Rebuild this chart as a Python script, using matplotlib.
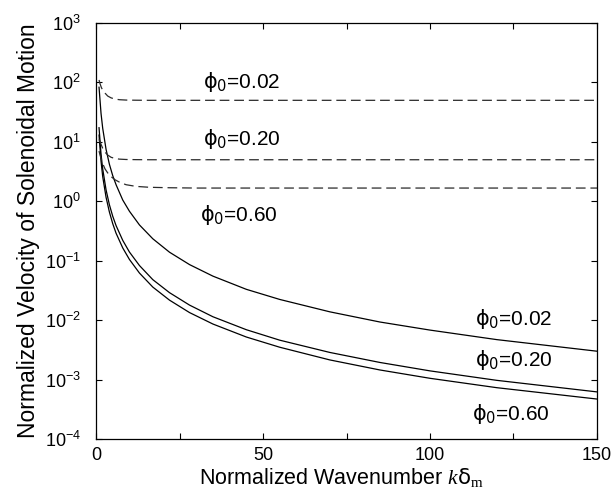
import numpy as np
import matplotlib
matplotlib.use("Agg")
import matplotlib.pyplot as plt
from matplotlib.ticker import MultipleLocator, FixedLocator, NullLocator, LogFormatterSciNotation

plt.rcParams['font.family'] = ['Liberation Sans', 'DejaVu Sans']
plt.rcParams['mathtext.fontset'] = 'custom'
plt.rcParams['mathtext.rm'] = 'Liberation Serif'
plt.rcParams['mathtext.it'] = 'Liberation Serif:italic'
plt.rcParams['mathtext.sf'] = 'DejaVu Sans'
plt.rcParams['lines.scale_dashes'] = False

# solid curves: velocity of solenoidal motion
k_solid = [0.9, 1.5, 2, 3, 4, 5, 6, 8, 10, 13, 17, 22, 28, 35, 45, 55, 70, 85, 100, 120, 150]
v_solid_002 = [83, 30, 16.9, 7.5, 4.2, 2.7, 1.9, 1.05, 0.68, 0.40, 0.234, 0.139, 0.086, 0.055,
               0.033, 0.0223, 0.0138, 0.0093, 0.0068, 0.0047, 0.0030]
v_solid_020 = [17.3, 6.2, 3.5, 1.56, 0.875, 0.56, 0.39, 0.22, 0.14, 0.083, 0.048, 0.029, 0.0179,
               0.0114, 0.0069, 0.0046, 0.00286, 0.00194, 0.0014, 0.00097, 0.00062]
v_solid_060 = [13.0, 4.7, 2.6, 1.17, 0.66, 0.42, 0.29, 0.164, 0.105, 0.062, 0.036, 0.0217, 0.0134,
               0.0086, 0.0052, 0.0035, 0.00214, 0.00145, 0.00105, 0.00073, 0.00047]

# dashed curves
k_dash = [0.9, 1.2, 1.6, 2, 2.7, 3.5, 4.5, 5.7, 7, 9, 12, 16, 22, 30, 150]
v_dash_002 = [110, 95, 82, 74, 66, 59, 55, 52.5, 51.2, 50.5, 50.2, 50, 50, 50, 50]
v_dash_020 = [11, 10, 8.8, 7.8, 6.7, 6.0, 5.5, 5.25, 5.12, 5.05, 5.02, 5.0, 5.0, 5.0, 5.0]
v_dash_060 = [7.0, 6.0, 5.0, 4.3, 3.5, 3.0, 2.6, 2.3, 2.1, 1.9, 1.78, 1.72, 1.69, 1.67, 1.67]

y_ticks = [1e-4, 1e-3, 1e-2, 1e-1, 1e0, 1e1, 1e2, 1e3]

phi_labels = ['0.02', '0.20', '0.60']
# label anchors (k, v)
upper_pos = [(32.0, 100), (32.0, 11.2), (31.1, 0.59)]
lower_pos = [(113.5, 0.0105), (113.5, 0.00214), (112.6, 0.000264)]

fig = plt.figure(figsize=(6.14, 4.98), dpi=100)
ax = fig.add_axes([0.1564, 0.1185, 0.8159, 0.8353])

for v in (v_solid_002, v_solid_020, v_solid_060):
    ax.plot(k_solid, v, '-', color='black', linewidth=0.9)
for v in (v_dash_002, v_dash_020, v_dash_060):
    ax.plot(k_dash, v, '-', color='#2a2a2a', linewidth=0.9, dashes=(7, 3.5))

ax.set_yscale('log')
ax.set_xlim(0, 150)
ax.set_ylim(1e-4, 1e3)
ax.xaxis.set_major_locator(MultipleLocator(50))
ax.xaxis.set_minor_locator(MultipleLocator(25))
ax.yaxis.set_major_locator(FixedLocator(y_ticks))
ax.yaxis.set_major_formatter(LogFormatterSciNotation())
ax.yaxis.set_minor_locator(NullLocator())
ax.tick_params(which='both', direction='in', top=True, right=True, length=4, width=0.8,
               labelsize=13)
ax.tick_params(axis='x', pad=6)
ax.tick_params(axis='y', pad=11)
for s in ax.spines.values():
    s.set_linewidth(0.9)

for lab, (x, y) in zip(phi_labels, upper_pos):
    ax.text(x, y, r'$\mathsf{\phi}_{\mathsf{0}}$=' + lab, fontsize=15, ha='left', va='center')
for lab, (x, y) in zip(phi_labels, lower_pos):
    ax.text(x, y, r'$\mathsf{\phi}_{\mathsf{0}}$=' + lab, fontsize=15, ha='left', va='center')

ax.set_xlabel(r'Normalized Wavenumber $k\mathsf{\delta}_{\mathrm{m}}$', fontsize=15.5, labelpad=1)
ax.xaxis.set_label_coords(0.49, -0.065)
ax.set_ylabel('Normalized Velocity of Solenoidal Motion', fontsize=16.5, labelpad=3)

fig.savefig('out.png', dpi=100)
